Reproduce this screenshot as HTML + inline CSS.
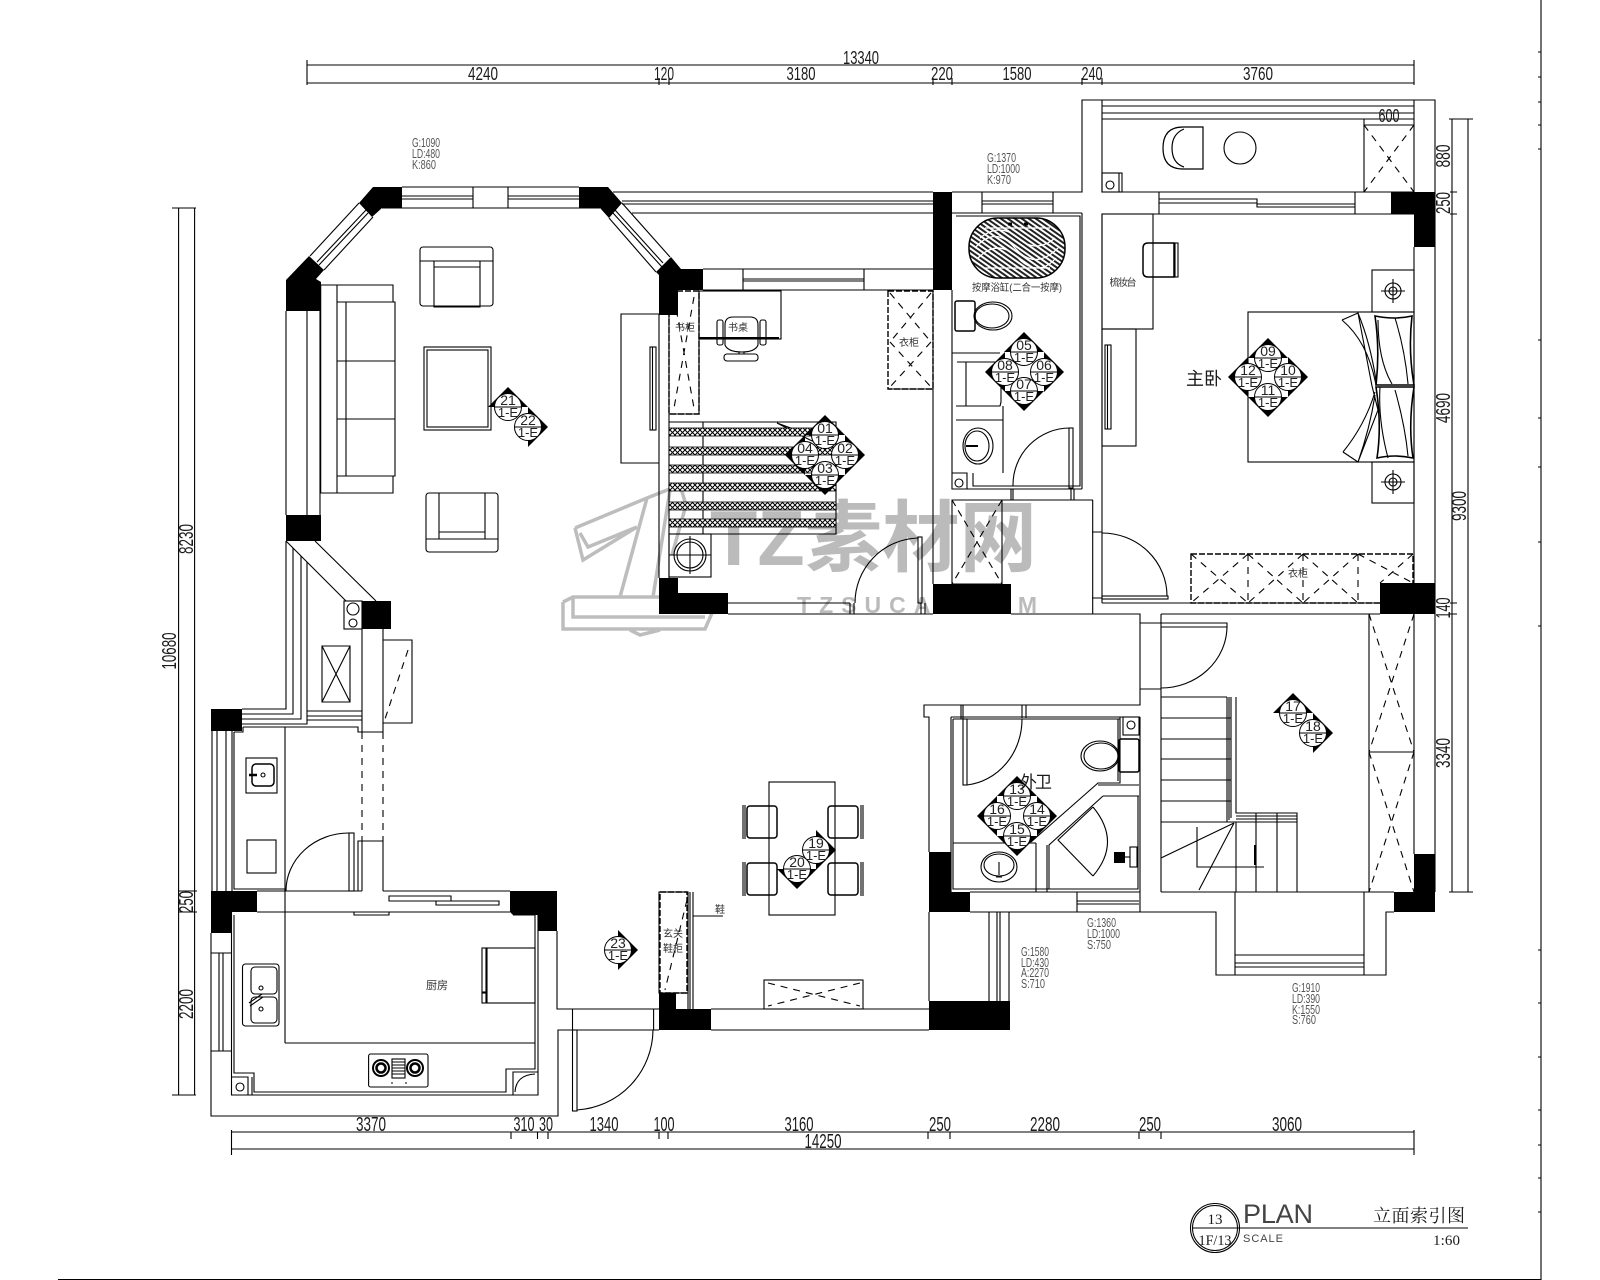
<!DOCTYPE html>
<html><head><meta charset="utf-8"><title>PLAN</title>
<style>
html,body{margin:0;padding:0;background:#fff;width:1600px;height:1280px;overflow:hidden}
svg{display:block}
text{font-family:"Liberation Sans","Noto Sans CJK SC",sans-serif;fill:#1a1a1a}
.d{font-size:18px;text-anchor:middle}
.b{font-size:20px;text-anchor:middle}
.n{font-size:12.5px;fill:#555}
.l{font-size:10px;text-anchor:middle;fill:#333}
.m{font-size:14px;text-anchor:middle;fill:#222}
.e{font-size:13px;text-anchor:middle;fill:#222}
.s{font-family:"Liberation Serif","Noto Serif CJK SC",serif}
</style></head><body>
<svg xmlns="http://www.w3.org/2000/svg" width="1600" height="1280" viewBox="0 0 1600 1280">
<defs>
<pattern id="dot" width="5" height="5" patternUnits="userSpaceOnUse"><rect width="5" height="5" fill="#fff"/><path d="M0 0L5 5M5 0L0 5" stroke="#000" stroke-width="1"/></pattern>
<pattern id="tub" width="4" height="4" patternUnits="userSpaceOnUse" patternTransform="rotate(35)"><rect width="4" height="4" fill="#fff"/><rect width="4" height="2" fill="#222"/></pattern>
<g id="c"><circle r="13.5" fill="#fff" stroke="#000"/><path d="M-13.5 0H13.5" stroke="#000"/></g>
</defs>
<rect width="1600" height="1280" fill="#fff"/>

<!-- watermark -->
<g fill="none" stroke="#bdbdbd" stroke-width="3.500">
<path d="M575 528L647 498L680 485L686 505L672 555M575 528L583 560L637 527M580 533L588 547L637 527M647 498L620 597M670 490L653 597"/>
<path d="M563 602L573 597H700M573 597V617H705M563 602V629H705L712 613M630 630L640 635L660 630"/>
</g>
<text x="710" y="565" style="font-size:78px;font-weight:bold;fill:#bbb" textLength="327" lengthAdjust="spacingAndGlyphs">TZ素材网</text>
<text x="797" y="613" style="font-size:23px;font-weight:bold;fill:#bbb" textLength="240" lengthAdjust="spacing">TZSUCAI.COM</text>

<!-- black walls -->
<g fill="#000">
<path d="M373 187H402V208H382L372 217L359 203Z"/>
<path d="M579 187H608L622 203L609 218L600 208H579Z"/>
<path d="M671 257L681 269H703V290H678V315H659V275L656 272Z"/>
<path d="M309 256L324 270L316 279L321 282V311H286V280Z"/>
<rect x="286" y="515" width="35" height="26"/>
<rect x="362" y="601" width="29" height="28"/>
<rect x="211" y="709" width="31" height="22"/>
<path d="M211 891H257V912H231V933H211Z"/>
<path d="M510 891H557V931H538V915H513L510 912Z"/>
<path d="M659 993H676V1009H711V1030H659Z"/>
<rect x="929" y="1001" width="81" height="29"/>
<path d="M929 852H951V892H970V912H929Z"/>
<path d="M1414 854H1435V912H1394V892H1414Z"/>
<rect x="1380" y="583" width="55" height="31"/>
<path d="M1391 192H1435V247H1414V214H1391Z"/>
<rect x="933" y="192" width="19" height="98"/>
<rect x="933" y="584" width="78" height="30"/>
<path d="M659 578H678V593H728V614H659Z"/>
<rect x="1114" y="852" width="11" height="11"/>
</g>

<!-- main lines -->
<g fill="none" stroke="#000" stroke-width="1.100">
<path d="M307 60V85M307 65H1414M307 83H1414M1414 60V85M659 78V85M669 78V85M933 78V85M952 78V85M1082 78V85M1102 78V85"/>
<path d="M231.500 1130V1155M231.500 1132H1414M231.500 1149H1414M1414 1130V1155M511 1132V1139M537.500 1132V1139M548 1132V1139M659 1132V1139M668 1132V1139M928 1132V1139M950 1132V1139M1139 1132V1139M1161 1132V1139"/>
<path d="M178.600 208V1095M194.600 208V1095M172 208H196M172 1095H196M178 891H197M178 912H197"/>
<path d="M1452 119V892M1468 119V892M1449 119H1473M1449 892H1473M1450 192H1457M1450 214H1457M1450 603H1457M1450 614H1457"/>
<path d="M1541 0V1280M58 1279.500H1541M1538 52H1541M1538 77H1541M1538 102H1541M1538 125H1541M1538 149H1541M1538 340H1541M1538 418H1541M1538 467H1541M1538 542H1541M1538 626H1541M1538 950H1541M1538 1003H1541M1538 1057H1541M1538 1110H1541M1538 1145H1541M1538 1178H1541M1538 1212H1541"/>

<!-- octagon windows -->
<path d="M402 187H579M382 208H600M402 196H473M508 196H579M402 199H473M508 199H579M473 187V208M508 187V208"/>
<path d="M310 256L359 203M324 270L373 217M317 262L366 210M319 265L368 213"/>
<path d="M622 203L670 257M609 218L656 272M615 210L663 263M613 213L662 267"/>
<path d="M613 192H933M622 201H933M622 204H933M632 213H933"/>
<path d="M703 269H933M703 290H933M743 269V290M864 269V290M743 279H864M743 281H864"/>
<!-- north east -->
<path d="M952 192H1082V100H1435V892M1102 100V192H1414M1414 100V192M1102 106H1414M1102 113H1414M1102 119H1414"/>
<path d="M982 192V213M1053 192V213M982 201H1053M982 204H1053M952 213H1082"/>
<path d="M1102 214H1414M1159 192V214M1355 192V214M1159 199H1257V204H1355M1159 203H1257V207H1355"/>
<path d="M1414 247V583M1414 614V854M1082 213V489M1102 214V603M1092.700 500V614"/>
<!-- bath upper -->
<path d="M956 216H1080V486H973V473M952 290V473H967V489M952 473V489H1082M952 500H1093"/>
<path d="M933 290V584M1011 489V500M1013 489V500M1071 489V500M1074 489V500"/>
<path d="M952 353H1000M957 362H1010M966 362V406M956 406H1000L1001 402V380M956 420H1003M1003 406V473M1013 486A57 57 0 0 1 1070 428"/>
<rect x="1069" y="428" width="4" height="60"/>
<!-- study south -->
<path d="M728 603H850M728 614H933M1011 614H1093M850 603V614M854 603V614M921 603V614M925 603V614"/>
<path d="M918 538A65 65 0 0 0 855 603"/>
<rect x="918" y="537" width="4" height="66"/>
<path d="M1092 532H1102M1102 533A65 63 0 0 1 1167 596M1092 598H1102M1102 603H1380"/>
<rect x="1102" y="596" width="66" height="3"/>
<!-- walkway -->
<path d="M1092 614H1140V705H924V717H929V852M1161 614H1380M1161 614V892"/>
<path d="M1369 614V892M1369 752H1414"/>
<path d="M1140 623H1227V627H1161M1227 627A66 62 0 0 1 1161 688M1140 689H1161"/>
<!-- stairs -->
<path d="M1161 697H1227M1161 718H1231M1161 739H1231M1161 759H1231M1161 780H1231M1161 801H1231M1161 822H1297M1227 697V822M1229 697V820M1231 697V818M1236 697V813H1297V892M1236 816H1297M1236 819H1297M1236 822V892M1256 813V892M1277 813V892"/>
<path d="M1234 823L1161 858M1234 823L1199 890M1197 827V867H1264"/>
<path d="M1255 845V865" stroke-width="2"/>
<!-- south east -->
<path d="M1161 892H1394M1140 717V912M970 912H1216V975H1386V912H1394M1235 892V975M1364 892V975M1235 955H1364M1235 963H1364M1235 967H1364"/>
<path d="M970 892H1140M1077 892V912M1077 901H1139M1077 904H1139"/>
<path d="M929 912V1001M989 912V1001M997 912V1001M1000 912V1001M1009 912V1001"/>
<path d="M711 1009H929M711 1030H929"/>
<!-- outer bath -->
<path d="M951 717H1140M953 719H1120M951 717V892M953 719V889H1138V796M961 705V719M963 705V719M1022 705V718M1026 705V718"/>
<path d="M1022 719A62 66 0 0 1 967 785"/>
<rect x="963" y="719" width="4" height="66"/>
<rect x="1123" y="717" width="16" height="18"/>
<circle cx="1131" cy="725" r="4"/>
<path d="M1120 717V783H1098L1031 842M1118 719V781M1139 785H1098M1103 796H1139M1103 796L1049 845V889M1047 845V892M1036 843V892M953 843H1036"/>
<path d="M1093 807L1058 840L1093 876M1093 807Q1122 842 1093 876"/>
<rect x="1130" y="847" width="7" height="20"/>
<path d="M1125 857H1130"/>
<rect x="1119" y="739" width="20" height="33" rx="2" stroke-width="1.500"/>
<ellipse cx="1100" cy="756" rx="19" ry="15"/><ellipse cx="1101" cy="756" rx="17" ry="13"/>
<ellipse cx="999" cy="867" rx="18" ry="15"/><ellipse cx="999" cy="865" rx="15" ry="11"/>
<path d="M999 862V875M996 877H1002"/>
<!-- dining -->
<rect x="769" y="782" width="66" height="133"/>
<rect x="747" y="806" width="30" height="32" rx="3" stroke-width="1.500"/><rect x="828" y="806" width="30" height="32" rx="3" stroke-width="1.500"/>
<rect x="747" y="863" width="30" height="32" rx="3" stroke-width="1.500"/><rect x="828" y="863" width="30" height="32" rx="3" stroke-width="1.500"/>
<path d="M743 805V839M745 805V839M861 805V839M863 805V839M743 862V896M745 862V896M861 862V896M863 862V896"/>
<!-- shoe cabinet -->
<rect x="659" y="892" width="29" height="101"/>
<path d="M688 892V1009M690 892V1009M693 892V1009M693 916H723"/>
<rect x="764" y="980" width="99" height="29"/>
<!-- west -->
<path d="M286 311V515M307 311V515M320 311V515"/>
<path d="M286 541V709H242M293 548V714H242M301 556V719H242M307 562V724H242M307 711H362M307 716H362M307 720H362"/>
<path d="M286 541L346 601M315 541L376 601"/>
<rect x="344" y="601" width="18" height="28"/>
<circle cx="353" cy="609" r="6"/><circle cx="353" cy="623" r="4"/>
<path d="M322 646H350V702H322ZM322 646L350 702M350 646L322 702"/>
<path d="M362 629V732H383V629M383 640H412V723H383"/>
<path d="M243 727H358V732H362M234 732H243V727"/>
<path d="M212 731V891M217 731V891M226 731V891M232 731V891M234 732V889H285M285 727V1043"/>
<rect x="246" y="758" width="31" height="35"/><rect x="252" y="764" width="22" height="22" rx="4" stroke-width="1.500"/>
<path d="M249 775H257" stroke-width="2.500"/><circle cx="263" cy="775" r="2"/>
<rect x="247" y="840" width="29" height="33"/>
<path d="M286 891A63 58 0 0 1 349 833"/>
<rect x="349" y="833" width="5" height="58"/>
<path d="M358 891V841H383V891M362 841V891"/>
<!-- kitchen -->
<path d="M257 891H362M383 891H510M257 912H510M354 912V915H389V912M234 915V1073H254V1092H506V1069H535V915H513M231.500 912V1095H538V912"/>
<path d="M389 896H451V901H389ZM436 901H499V905H436Z"/>
<path d="M211 933V1116H558V1030H659M557 931V1009H659M572.500 1009V1030M653.600 1009V1030M252 1077V1095M231 1077H248V1095M513 1095V1072H538"/>
<path d="M219 953V1051M223 953V1051M211 953H231M211 1051H231"/>
<circle cx="240" cy="1087" r="4"/>
<path d="M285 1043H535M515 1092Q516 1075 535 1074"/>
<rect x="487" y="948" width="48" height="55"/><rect x="482" y="948" width="4" height="44"/><rect x="482" y="993" width="4" height="10"/>
<rect x="242.500" y="964" width="36.500" height="62" rx="3"/>
<rect x="251" y="967" width="26" height="27" rx="4"/><rect x="251" y="997" width="26" height="26" rx="4"/>
<circle cx="261" cy="988" r="2"/><circle cx="261" cy="1009" r="2"/><path d="M249 1003L262 994M250 1006L263 997"/>
<rect x="368.600" y="1054" width="59.400" height="33" rx="2"/>
<circle cx="381" cy="1068" r="8" stroke-width="2"/><circle cx="381" cy="1068" r="4.500" stroke-width="2.500"/><circle cx="415" cy="1068" r="8" stroke-width="2"/><circle cx="415" cy="1068" r="4.500" stroke-width="2.500"/>
<rect x="392" y="1059" width="13" height="19"/>
<path d="M392 1062H405M392 1065H405M392 1068H405M392 1071H405M392 1074H405M391 1083H393M405 1083H407"/>
<rect x="572.500" y="1030" width="4.500" height="81"/>
<path d="M577 1110A81 81 0 0 0 653 1030"/>
<!-- living -->
<rect x="420" y="247" width="73" height="59" rx="3"/><path d="M420 261H493M434 261V307H480V261M434 267H480"/>
<rect x="426" y="493" width="72" height="59" rx="3"/><path d="M426 539H498M439 493V539M485 493V539M439 532H485"/>
<path d="M320.700 285H393V302H395V476H393V493H320.700ZM337 285V493M346 302V476M337 302H395M337 476H395M337 361H395M337 419H395"/>
<rect x="424" y="347" width="67" height="83"/><rect x="427" y="350" width="61" height="77"/>
<path d="M621 314H659V463H621ZM669 315V578M659 463V578"/>
<rect x="650" y="347" width="6" height="83"/><path d="M652.500 347V430"/>
<rect x="1105" y="345" width="6" height="84"/><path d="M1107.500 345V429"/>
<!-- study -->
<rect x="699" y="291" width="82" height="48"/>
<path d="M699 338H779" stroke-width="2"/>
<rect x="717" y="320" width="6" height="25" rx="2"/><rect x="760" y="320" width="6" height="25" rx="2"/>
<path d="M725 345V325Q725 317 733 317H750Q758 317 758 325V345Q755 352 742 352Q728 352 725 345Z"/>
<rect x="724" y="354" width="34" height="7" rx="3"/><path d="M739 352V354M744 352V354"/>
<path d="M669 422H836V534H669M703 422V534" />
<rect x="669" y="534" width="42" height="43"/>
<circle cx="690" cy="555" r="16"/><circle cx="690" cy="555" r="13"/><path d="M669 555H711M690 536V574"/>
<path d="M777 423L810 440L835 450M777 423L810 435"/>
<!-- bedroom -->
<rect x="1102" y="214" width="51" height="115"/>
<path d="M1148 243H1174V277H1148Q1143 277 1143 272V248Q1143 243 1148 243Z" stroke-width="1.500"/>
<rect x="1175" y="243" width="3" height="34"/>
<rect x="1102" y="329" width="34" height="117"/>
<rect x="1372" y="270" width="42" height="42"/><rect x="1372" y="462" width="42" height="41"/>
<circle cx="1393" cy="291" r="8"/><circle cx="1393" cy="291" r="4"/><path d="M1381 291H1405M1393 279V303"/>
<circle cx="1393" cy="482" r="8"/><circle cx="1393" cy="482" r="4"/><path d="M1381 482H1405M1393 470V494"/>
<rect x="1248" y="312" width="166" height="150"/>
<path d="M1342 320L1358 313L1372 386L1378 410L1358 462L1343 452M1342 320Q1368 342 1376 385M1358 313Q1370 342 1376 380M1343 452Q1365 425 1375 392M1358 462Q1370 428 1375 395"/>
<path d="M1375 316Q1395 320 1412 316Q1408 350 1414 385H1376Q1380 350 1375 316ZM1376 387H1414Q1408 425 1413 458Q1395 454 1377 458Q1382 425 1376 387Z" stroke-width="1.600"/>
<path d="M1395 318Q1405 350 1408 384M1395 390Q1405 425 1408 456M1380 387Q1378 420 1388 458M1378 320Q1378 360 1392 384"/>
<rect x="1102" y="173" width="20" height="19"/><path d="M1119 173V192"/><circle cx="1110" cy="185" r="4"/>
<path d="M1183 127H1203V169H1183Q1163 169 1163 148Q1163 127 1183 127ZM1184 129Q1172 134 1172 148Q1172 163 1184 167" stroke-width="1.200"/>
<circle cx="1240" cy="148" r="16"/>
<path d="M1364 119H1414M1364 125H1414M1364 119V192"/>
<!-- bath fixtures -->
<rect x="955" y="301" width="20" height="30" rx="2" stroke-width="1.500"/>
<ellipse cx="993" cy="316" rx="19" ry="14"/><ellipse cx="992" cy="316" rx="17" ry="12"/>
<ellipse cx="978" cy="446" rx="15" ry="18"/><ellipse cx="977" cy="446" rx="12" ry="15"/>
<path d="M966 446H978" stroke-width="2"/>
<circle cx="959" cy="483" r="4"/>
<!-- dashed X -->
<g stroke-dasharray="7 6">
<path d="M674 297L694 408M694 297L674 408"/>
<path d="M890 293L931 342M931 293L890 342M890 342L931 387M931 342L890 387"/>
<path d="M1248 554V603M1303 554V603M1358 554V603M1191 554L1248 603M1248 554L1191 603M1248 554L1303 603M1303 554L1248 603M1303 554L1358 603M1358 554L1303 603M1358 554L1413 583M1413 554L1380 583"/>
<path d="M952 500L1002 584M1002 500L952 584" stroke-dasharray="7 5"/>
<path d="M1369 614L1414 752M1414 614L1369 752M1369 752L1414 892M1414 752L1369 892"/>
<path d="M1364 125L1414 192M1414 125L1364 192"/>
<path d="M687 900L665 990"/>
<path d="M768 983L860 1006M860 983L768 1006"/>
<path d="M408 650L384 722M362 732V841M383 732V841"/>
</g>
<!-- dense dashed cabinet borders -->
<g stroke-dasharray="6 2" stroke-width="1.400">
<path d="M669 291H699V414H669Z"/>
<path d="M888 291H933V389H888Z"/>
<path d="M1191 554H1413V603H1191Z"/>
<path d="M660 892H687V993H660Z"/>
</g>
<path d="M699 291V414H669M888 389H933"/>
<path d="M952 500H1002V584H952Z"/>
</g>

<!-- bed-stripe bands -->
<g stroke="#000" stroke-width=".8" fill="url(#dot)">
<rect x="669" y="428" width="167" height="8"/><rect x="669" y="447" width="167" height="8"/><rect x="669" y="465" width="167" height="8"/>
<rect x="669" y="483" width="167" height="8"/><rect x="669" y="502" width="167" height="8"/><rect x="669" y="519" width="167" height="8"/>
</g>
<!-- tub -->
<rect x="969" y="218" width="96" height="60" rx="29" fill="url(#tub)" stroke="#000" stroke-width="1.500"/>
<path d="M985 228H1050M985 268H1050M975 248Q995 225 1015 248T1058 248M978 258Q998 238 1018 258T1056 258M980 238Q1000 222 1018 238T1055 238" fill="none" stroke="#fff" stroke-width="1.300"/>
<path d="M1008 224H1012M1024 224H1028" stroke="#000" stroke-width="3"/>

<!-- marker triangles -->
<g fill="#000">
<path d="M1248 358L1268 338L1288 358ZM1288 357L1308 377L1288 397ZM1248 397H1288L1268 417ZM1248 357V397L1228 377Z"/>
<path d="M1004 352L1024 332L1044 352ZM1044 352L1064 372L1044 392ZM1004 391H1044L1024 411ZM1005 352V392L985 372Z"/>
<path d="M805 435L825 415L845 435ZM845 435L865 455L845 475ZM805 475H845L825 495ZM805 435V475L785 455Z"/>
<path d="M997 796L1017 776L1037 796ZM1037 796L1057 816L1037 836ZM997 836H1037L1017 856ZM997 796V836L977 816Z"/>
<path d="M488 407L508 387L528 407ZM528 407L548 427L528 447Z"/>
<path d="M1273 713L1293 693L1313 713ZM1313 713L1333 733L1313 753Z"/>
<path d="M816 830L836 850L816 870ZM777 869H817L797 889Z"/>
<path d="M618 930L638 950L618 970Z"/>
</g>
<use href="#c" x="1268" y="358"/><use href="#c" x="1288" y="377"/><use href="#c" x="1268" y="397"/><use href="#c" x="1248" y="377"/>
<use href="#c" x="1024" y="352"/><use href="#c" x="1044" y="372"/><use href="#c" x="1024" y="391"/><use href="#c" x="1005" y="372"/>
<use href="#c" x="825" y="435"/><use href="#c" x="845" y="455"/><use href="#c" x="825" y="475"/><use href="#c" x="805" y="455"/>
<use href="#c" x="1017" y="796"/><use href="#c" x="1037" y="816"/><use href="#c" x="1017" y="836"/><use href="#c" x="997" y="816"/>
<use href="#c" x="508" y="407"/><use href="#c" x="528" y="427"/>
<use href="#c" x="1293" y="713"/><use href="#c" x="1313" y="733"/>
<use href="#c" x="816" y="850"/><use href="#c" x="797" y="869"/>
<use href="#c" x="618" y="950"/>
<g>
<text class="m" x="1268" y="356">09</text><text class="e" x="1268" y="368">1-E</text>
<text class="m" x="1288" y="375">10</text><text class="e" x="1288" y="387">1-E</text>
<text class="m" x="1268" y="395">11</text><text class="e" x="1268" y="407">1-E</text>
<text class="m" x="1248" y="375">12</text><text class="e" x="1248" y="387">1-E</text>
<text class="m" x="1024" y="350">05</text><text class="e" x="1024" y="362">1-E</text>
<text class="m" x="1044" y="370">06</text><text class="e" x="1044" y="382">1-E</text>
<text class="m" x="1024" y="389">07</text><text class="e" x="1024" y="401">1-E</text>
<text class="m" x="1005" y="370">08</text><text class="e" x="1005" y="382">1-E</text>
<text class="m" x="825" y="433">01</text><text class="e" x="825" y="445">1-E</text>
<text class="m" x="845" y="453">02</text><text class="e" x="845" y="465">1-E</text>
<text class="m" x="825" y="473">03</text><text class="e" x="825" y="485">1-E</text>
<text class="m" x="805" y="453">04</text><text class="e" x="805" y="465">1-E</text>
<text class="m" x="1017" y="794">13</text><text class="e" x="1017" y="806">1-E</text>
<text class="m" x="1037" y="814">14</text><text class="e" x="1037" y="826">1-E</text>
<text class="m" x="1017" y="834">15</text><text class="e" x="1017" y="846">1-E</text>
<text class="m" x="997" y="814">16</text><text class="e" x="997" y="826">1-E</text>
<text class="m" x="508" y="405">21</text><text class="e" x="508" y="417">1-E</text>
<text class="m" x="528" y="425">22</text><text class="e" x="528" y="437">1-E</text>
<text class="m" x="1293" y="711">17</text><text class="e" x="1293" y="723">1-E</text>
<text class="m" x="1313" y="731">18</text><text class="e" x="1313" y="743">1-E</text>
<text class="m" x="816" y="848">19</text><text class="e" x="816" y="860">1-E</text>
<text class="m" x="797" y="867">20</text><text class="e" x="797" y="879">1-E</text>
<text class="m" x="618" y="948">23</text><text class="e" x="618" y="960">1-E</text>
</g>

<!-- top dims -->
<text class="d" x="861" y="64" textLength="36" lengthAdjust="spacingAndGlyphs">13340</text>
<text class="d" x="483" y="80" textLength="30" lengthAdjust="spacingAndGlyphs">4240</text>
<text class="d" x="664" y="80" textLength="20" lengthAdjust="spacingAndGlyphs">120</text>
<text class="d" x="801" y="80" textLength="29" lengthAdjust="spacingAndGlyphs">3180</text>
<text class="d" x="942" y="80" textLength="22" lengthAdjust="spacingAndGlyphs">220</text>
<text class="d" x="1017" y="80" textLength="29" lengthAdjust="spacingAndGlyphs">1580</text>
<text class="d" x="1092" y="80" textLength="21" lengthAdjust="spacingAndGlyphs">240</text>
<text class="d" x="1258" y="80" textLength="30" lengthAdjust="spacingAndGlyphs">3760</text>
<text class="d" x="1389" y="122" textLength="21" lengthAdjust="spacingAndGlyphs">600</text>
<!-- bottom dims -->
<text class="b" x="371" y="1131" textLength="30" lengthAdjust="spacingAndGlyphs">3370</text>
<text class="b" x="524" y="1131" textLength="21" lengthAdjust="spacingAndGlyphs">310</text>
<text class="b" x="546" y="1131" textLength="14" lengthAdjust="spacingAndGlyphs">30</text>
<text class="b" x="604" y="1131" textLength="29" lengthAdjust="spacingAndGlyphs">1340</text>
<text class="b" x="664" y="1131" textLength="21" lengthAdjust="spacingAndGlyphs">100</text>
<text class="b" x="799" y="1131" textLength="29" lengthAdjust="spacingAndGlyphs">3160</text>
<text class="b" x="940" y="1131" textLength="22" lengthAdjust="spacingAndGlyphs">250</text>
<text class="b" x="1045" y="1131" textLength="30" lengthAdjust="spacingAndGlyphs">2280</text>
<text class="b" x="1150" y="1131" textLength="22" lengthAdjust="spacingAndGlyphs">250</text>
<text class="b" x="1287" y="1131" textLength="30" lengthAdjust="spacingAndGlyphs">3060</text>
<text class="b" x="823" y="1148" textLength="37" lengthAdjust="spacingAndGlyphs">14250</text>
<!-- rotated dims -->
<text class="b" transform="translate(193,539) rotate(-90)" textLength="30" lengthAdjust="spacingAndGlyphs">8230</text>
<text class="b" transform="translate(176,651) rotate(-90)" textLength="37" lengthAdjust="spacingAndGlyphs">10680</text>
<text class="b" transform="translate(193,902) rotate(-90)" textLength="22" lengthAdjust="spacingAndGlyphs">250</text>
<text class="b" transform="translate(193,1004) rotate(-90)" textLength="30" lengthAdjust="spacingAndGlyphs">2200</text>
<text class="b" transform="translate(1450,156) rotate(-90)" textLength="23" lengthAdjust="spacingAndGlyphs">880</text>
<text class="b" transform="translate(1450,203) rotate(-90)" textLength="22" lengthAdjust="spacingAndGlyphs">250</text>
<text class="b" transform="translate(1450,408) rotate(-90)" textLength="30" lengthAdjust="spacingAndGlyphs">4690</text>
<text class="b" transform="translate(1466,506) rotate(-90)" textLength="30" lengthAdjust="spacingAndGlyphs">9300</text>
<text class="b" transform="translate(1450,608) rotate(-90)" textLength="21" lengthAdjust="spacingAndGlyphs">140</text>
<text class="b" transform="translate(1450,753) rotate(-90)" textLength="30" lengthAdjust="spacingAndGlyphs">3340</text>

<!-- notes -->
<g lengthAdjust="spacingAndGlyphs">
<text class="n" x="412" y="147" textLength="28" lengthAdjust="spacingAndGlyphs">G:1090</text><text class="n" x="412" y="158" textLength="28" lengthAdjust="spacingAndGlyphs">LD:480</text><text class="n" x="412" y="169" textLength="24" lengthAdjust="spacingAndGlyphs">K:860</text>
<text class="n" x="987" y="162" textLength="29" lengthAdjust="spacingAndGlyphs">G:1370</text><text class="n" x="987" y="173" textLength="33" lengthAdjust="spacingAndGlyphs">LD:1000</text><text class="n" x="987" y="184" textLength="24" lengthAdjust="spacingAndGlyphs">K:970</text>
<text class="n" x="1087" y="927" textLength="29" lengthAdjust="spacingAndGlyphs">G:1360</text><text class="n" x="1087" y="938" textLength="33" lengthAdjust="spacingAndGlyphs">LD:1000</text><text class="n" x="1087" y="949" textLength="24" lengthAdjust="spacingAndGlyphs">S:750</text>
<text class="n" x="1021" y="956" textLength="28" lengthAdjust="spacingAndGlyphs">G:1580</text><text class="n" x="1021" y="967" textLength="28" lengthAdjust="spacingAndGlyphs">LD:430</text><text class="n" x="1021" y="977" textLength="28" lengthAdjust="spacingAndGlyphs">A:2270</text><text class="n" x="1021" y="988" textLength="24" lengthAdjust="spacingAndGlyphs">S:710</text>
<text class="n" x="1292" y="992" textLength="28" lengthAdjust="spacingAndGlyphs">G:1910</text><text class="n" x="1292" y="1003" textLength="28" lengthAdjust="spacingAndGlyphs">LD:390</text><text class="n" x="1292" y="1014" textLength="28" lengthAdjust="spacingAndGlyphs">K:1550</text><text class="n" x="1292" y="1024" textLength="24" lengthAdjust="spacingAndGlyphs">S:760</text>
</g>

<!-- room labels -->
<text class="l" x="685" y="331">书柜</text>
<text class="l" x="738" y="331">书桌</text>
<text class="l" x="909" y="346">衣柜</text>
<text class="l" x="1123" y="286" textLength="27">梳妆台</text>
<text class="l" x="1017" y="291" textLength="90" lengthAdjust="spacingAndGlyphs">按摩浴缸(二合一按摩)</text>
<text class="l" x="1298" y="577">衣柜</text>
<text class="l" x="437" y="989" style="font-size:11px">厨房</text>
<text class="l" x="673" y="937">玄关</text>
<text class="l" x="673" y="952">鞋柜</text>
<text class="l" x="720" y="913">鞋</text>
<text x="1186" y="385" style="font-size:18px" textLength="36">主卧</text>
<text x="1020" y="788" style="font-size:17px" textLength="32">外卫</text>

<!-- title -->
<circle cx="1215" cy="1228" r="24.500" fill="none" stroke="#000" stroke-width="1.100"/><circle cx="1215" cy="1228" r="22.500" fill="none" stroke="#000" stroke-width="1"/>
<path d="M1192 1228H1468" stroke="#000" stroke-width="1.100"/>
<text class="s" x="1215" y="1224" style="font-size:15px;text-anchor:middle">13</text>
<text class="s" x="1215" y="1245" style="font-size:15px;text-anchor:middle" textLength="33" lengthAdjust="spacingAndGlyphs">1F/13</text>
<text x="1243" y="1223" style="font-size:27px;fill:#444" textLength="70">PLAN</text>
<text x="1243" y="1242" style="font-size:11px;fill:#444" textLength="40">SCALE</text>
<text class="s" x="1373" y="1222" style="font-size:18px" textLength="92">立面索引图</text>
<text class="s" x="1433" y="1245" style="font-size:15px" textLength="27">1:60</text>
</svg>
</body></html>
